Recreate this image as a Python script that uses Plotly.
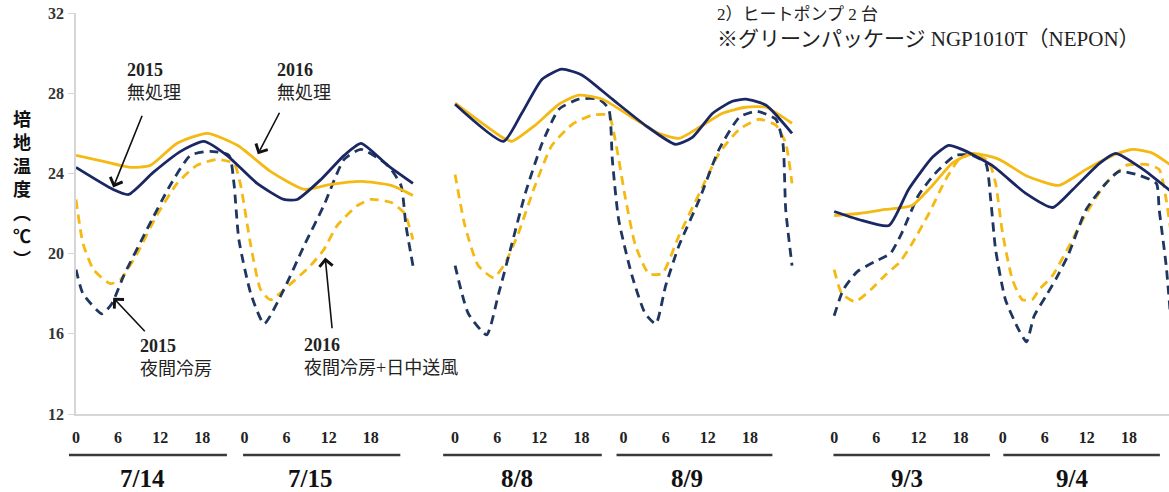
import plotly.graph_objects as go

# ---------------- data ----------------
GROUP_OFFSETS = [0, 54, 108]          # hour offset of each 2-day block on the x axis
X_END = 155.7
day_labels = [["7/14", "7/15"], ["8/8", "8/9"], ["9/3", "9/4"]]
hour_ticks = [0, 6, 12, 18]
y_ticks = [12, 16, 20, 24, 28, 32]

# group 1 : 7/14 - 7/15
g1_ctrl15_h = [0, 5.3, 7.5, 11, 14.9, 18.2, 21.5, 25.8, 29.6, 31.5, 34.9, 38.2, 40.6, 44.4, 48]
g1_ctrl15_t = [24.3, 23.2, 22.95, 24.05, 25.1, 25.6, 24.9, 23.5, 22.7, 22.7, 23.7, 24.9, 25.5, 24.4, 23.5]
g1_ctrl16_h = [0, 3.9, 7.7, 10.6, 14.4, 18.7, 23, 27.7, 32.5, 36.3, 40.6, 44.9, 48]
g1_ctrl16_t = [24.9, 24.6, 24.3, 24.4, 25.5, 26.0, 25.4, 24.1, 23.2, 23.45, 23.6, 23.4, 22.9]
g1_cool15_h = [0, 1.0, 3.7, 5.1, 6.8, 10.1, 13.4, 16.3, 19.1, 21.8, 22.5, 23.2, 24.9, 26.8, 29.6, 32.5,
               35.3, 38.2, 40.6, 44.4, 46.3, 47.0, 48]
g1_cool15_t = [19.2, 18.0, 17.0, 17.5, 18.9, 21.2, 23.4, 24.9, 25.1, 24.9, 23.5, 20.7, 18.0, 16.5, 18.2, 20.4,
               22.4, 24.7, 25.2, 24.4, 23.4, 21.4, 19.4]
g1_cool16_h = [0, 1, 2.5, 4.9, 6.3, 8.7, 11.5, 14.4, 17.2, 20.1, 22.5, 23.4, 24.9, 26.3, 27.7, 30.6,
               33.4, 35.3, 37.2, 40.1, 42, 44.9, 46.8, 48]
g1_cool16_t = [22.7, 20.5, 19.2, 18.5, 18.7, 20.0, 21.9, 23.5, 24.4, 24.7, 24.5, 23.5, 20.4, 18.2, 17.7, 18.5,
               19.4, 20.2, 21.4, 22.4, 22.7, 22.55, 22.0, 20.7]

# group 2 : 8/8 - 8/9
g2_ctrl15_h = [0, 6.9, 9.5, 12.4, 15.2, 18.1, 22.4, 27.1, 31.4, 33.8, 36.7, 39.5, 41.4, 44.3, 48]
g2_ctrl15_t = [27.45, 25.6, 27.0, 28.7, 29.2, 28.9, 27.7, 26.4, 25.45, 25.8, 27.0, 27.6, 27.7, 27.4, 26.0]
g2_ctrl16_h = [0, 6.7, 8.1, 11.4, 14.8, 17.6, 21, 25.2, 29, 31.9, 34.8, 38.1, 41.4, 44.3, 48]
g2_ctrl16_t = [27.5, 25.8, 25.6, 26.4, 27.45, 27.9, 27.7, 26.8, 26.0, 25.75, 26.3, 27.0, 27.3, 27.3, 26.5]
g2_cool15_h = [0, 1.9, 4.5, 6.2, 8.1, 10, 12.4, 14.8, 17.6, 20.5, 21.9, 22.4, 23.3, 25.2, 27.1, 28.6,
               30, 31.9, 34.8, 37.6, 40.5, 42.9, 45.7, 46.7, 47.1, 48]
g2_cool15_t = [19.4, 17.0, 15.95, 18.0, 20.5, 23.0, 25.5, 27.2, 27.7, 27.7, 27.2, 24.7, 21.7, 18.9, 17.0, 16.5,
               18.4, 20.4, 22.7, 25.2, 26.8, 27.1, 26.7, 25.5, 22.2, 19.4]
g2_cool16_h = [0, 1.4, 3.3, 5.5, 7.1, 9.0, 11.4, 13.8, 16.7, 19.5, 21.9, 22.9, 24.3, 25.7, 27.6, 29.5,
               31.9, 34.8, 37.6, 40.5, 43.3, 45.7, 47.1, 48]
g2_cool16_t = [23.95, 21.4, 19.4, 18.8, 19.5, 21.0, 23.4, 25.4, 26.45, 26.9, 26.9, 25.5, 22.7, 20.4, 19.0, 19.0,
               20.9, 23.0, 25.0, 26.2, 26.7, 26.4, 25.5, 23.5]

# group 3 : 9/3 - 9/4
g3_ctrl15_h = [0, 3.5, 7.8, 10.6, 14, 16.3, 18.2, 22.5, 27.3, 31.1, 34, 37.8, 40.1, 44, 48]
g3_ctrl15_t = [22.1, 21.7, 21.4, 23.2, 24.8, 25.4, 25.2, 24.4, 23.0, 22.3, 23.2, 24.5, 25.0, 24.2, 23.1]
g3_ctrl16_h = [0, 3.5, 7.3, 11.1, 14, 16.8, 19.7, 23.5, 27.3, 32, 35.9, 39.7, 42.5, 45.4, 48]
g3_ctrl16_t = [21.9, 22.0, 22.2, 22.4, 23.4, 24.5, 25.0, 24.7, 23.9, 23.4, 24.2, 24.9, 25.2, 25.0, 24.4]
g3_cool15_h = [0, 1.3, 3.3, 5.8, 8.0, 9.6, 12, 14.4, 17.3, 19.7, 21.6, 22.3, 23, 24.4, 26.3, 27.4, 28.5,
               30.2, 31.7, 33.3, 35.9, 38.7, 40.6, 43.5, 45.9, 46.3, 47.3, 48]
g3_cool15_t = [16.9, 18.2, 19.1, 19.6, 20.0, 21.0, 22.9, 24.0, 24.9, 24.9, 24.5, 22.7, 20.2, 17.7, 16.2, 15.6, 16.9,
               17.9, 18.8, 19.9, 22.2, 23.5, 24.1, 23.9, 23.5, 22.2, 19.4, 16.5]
g3_cool16_h = [0, 1.1, 3.0, 5.2, 7.2, 9.4, 11.1, 13.5, 15.9, 17.8, 19.7, 22, 23, 24, 25.4, 26.8, 28.2,
               29.2, 31.1, 33.5, 35.9, 38.7, 41.6, 44.4, 46.3, 47.3, 48]
g3_cool16_t = [19.2, 18.0, 17.6, 18.2, 18.9, 19.6, 20.5, 22.0, 23.7, 24.7, 24.95, 24.6, 23.5, 21.0, 18.7, 17.7, 17.7,
               18.2, 18.9, 20.4, 22.0, 23.5, 24.4, 24.45, 24.2, 22.7, 21.0]

groups = [
    dict(ctrl15=(g1_ctrl15_h, g1_ctrl15_t), ctrl16=(g1_ctrl16_h, g1_ctrl16_t),
         cool15=(g1_cool15_h, g1_cool15_t), cool16=(g1_cool16_h, g1_cool16_t)),
    dict(ctrl15=(g2_ctrl15_h, g2_ctrl15_t), ctrl16=(g2_ctrl16_h, g2_ctrl16_t),
         cool15=(g2_cool15_h, g2_cool15_t), cool16=(g2_cool16_h, g2_cool16_t)),
    dict(ctrl15=(g3_ctrl15_h, g3_ctrl15_t), ctrl16=(g3_ctrl16_h, g3_ctrl16_t),
         cool15=(g3_cool15_h, g3_cool15_t), cool16=(g3_cool16_h, g3_cool16_t)),
]

# ---------------- styles ----------------
NAVY = "#1b2763"
NAVY_D = "#1e3660"
GOLD = "#f5b914"
SERIF = "Liberation Serif, Noto Sans CJK JP"
styles = {
    "cool16": dict(color=GOLD, width=2.8, dash="9px,6px"),
    "cool15": dict(color=NAVY_D, width=2.8, dash="9px,6px"),
    "ctrl16": dict(color=GOLD, width=2.8),
    "ctrl15": dict(color=NAVY, width=2.8),
}

fig = go.Figure()
for gi, g in enumerate(groups):
    off = GROUP_OFFSETS[gi]
    for key in ["cool16", "cool15", "ctrl16", "ctrl15"]:
        hs, ts = g[key]
        fig.add_trace(go.Scatter(x=[h + off for h in hs], y=ts, mode="lines",
                                 line=dict(shape="spline", smoothing=0.55, **styles[key]),
                                 showlegend=False, hoverinfo="skip"))

tickvals, ticktext = [], []
for off in GROUP_OFFSETS:
    for d in range(2):
        for hh in hour_ticks:
            tickvals.append(off + 24 * d + hh)
            ticktext.append(str(hh))

def px(h):
    return h / X_END

shapes, annotations = [], []
underline_span = [(-1.0, 21.5), (-0.2, 22.2), (-1.7, 20.9), (-1.0, 21.2), (-0.1, 22.2), (0.1, 22.4)]
label_pos = [9.5, 9.3, 8.8, 9.0, 10.4, 9.9]
k = 0
for gi, off in enumerate(GROUP_OFFSETS):
    for d in range(2):
        start = off + 24 * d
        a, b = underline_span[k]
        shapes.append(dict(type="line", xref="paper", yref="paper",
                           x0=px(start + a), x1=px(start + b), y0=-0.1022, y1=-0.1022,
                           line=dict(color="#3a3a3a", width=2.5)))
        annotations.append(dict(text="<b>%s</b>" % day_labels[gi][d], xref="x", yref="paper",
                                x=start + label_pos[k], y=-0.16, showarrow=False,
                                xanchor="center", yanchor="middle",
                                font=dict(family="Liberation Serif", size=25, color="#111")))
        k += 1

# y-axis title, stacked vertically (one text block)
annotations.append(dict(text="<b>培<br>地<br>温<br>度<br>︵<br>℃<br>︶</b>", xref="paper", yref="paper",
                        x=(22 - 76) / 1093, y=(414 - 188) / 401, showarrow=False,
                        xanchor="center", yanchor="middle", align="center",
                        font=dict(family="Noto Sans CJK JP", size=18, color="#111")))

# callout labels
labels = [("<b>2015</b><br>無処理", 7.0, 28.6), ("<b>2016</b><br>無処理", 28.3, 28.6),
          ("<b>2015</b><br>夜間冷房", 8.8, 14.83), ("<b>2016</b><br>夜間冷房+日中送風", 32.2, 14.88)]
for txt, xx, yy in labels:
    annotations.append(dict(text=txt, x=xx, y=yy, xref="x", yref="y", showarrow=False,
                            xanchor="left", yanchor="middle", align="left",
                            font=dict(family=SERIF, size=18, color="#222")))
arrows = [((5.3, 23.3), (9.5, 26.95)), ((25.9, 24.95), (29.1, 27.1)),
          ((5.3, 17.8), (10.0, 16.05)), ((35.5, 19.8), (36.5, 16.2))]
for (tx, ty), (sx, sy) in arrows:
    annotations.append(dict(text="", x=tx, y=ty, ax=sx, ay=sy, xref="x", yref="y",
                            axref="x", ayref="y", showarrow=True, arrowhead=4,
                            arrowsize=1.6, arrowwidth=1.6, arrowcolor="#111", standoff=0))

annotations.append(dict(text="2）ヒートポンプ 2 台", x=91.0, y=31.95, xref="x", yref="y",
                        showarrow=False, xanchor="left", yanchor="middle",
                        font=dict(family=SERIF, size=17, color="#222")))
annotations.append(dict(text="※グリーンパッケージ NGP1010T（NEPON）", x=91.0, y=30.7, xref="x", yref="y",
                        showarrow=False, xanchor="left", yanchor="middle",
                        font=dict(family=SERIF, size=21, color="#222")))

fig.update_layout(
    width=1169, height=492,
    margin=dict(l=76, r=0, t=13, b=78),
    paper_bgcolor="white", plot_bgcolor="white",
    xaxis=dict(range=[0, X_END], tickmode="array", tickvals=tickvals, ticktext=ticktext,
               showgrid=False, zeroline=False, showline=True, linecolor="#d6d6d6", linewidth=1.5,
               ticks="", ticklabelstandoff=8,
               tickfont=dict(family="Liberation Serif", size=16, color="#222", weight="bold")),
    yaxis=dict(range=[12, 32], tickmode="array", tickvals=y_ticks,
               showgrid=False, zeroline=False, showline=True, linecolor="#d6d6d6", linewidth=1.5,
               ticks="outside", ticklen=6, tickcolor="#d6d6d6", tickwidth=1.2, ticklabelstandoff=1,
               tickfont=dict(family="Liberation Serif", size=16, color="#333", weight="bold")),
    shapes=shapes, annotations=annotations,
)
fig.write_html("out.html", config={"displayModeBar": False},
               post_script="document.body.style.margin='0px';")
